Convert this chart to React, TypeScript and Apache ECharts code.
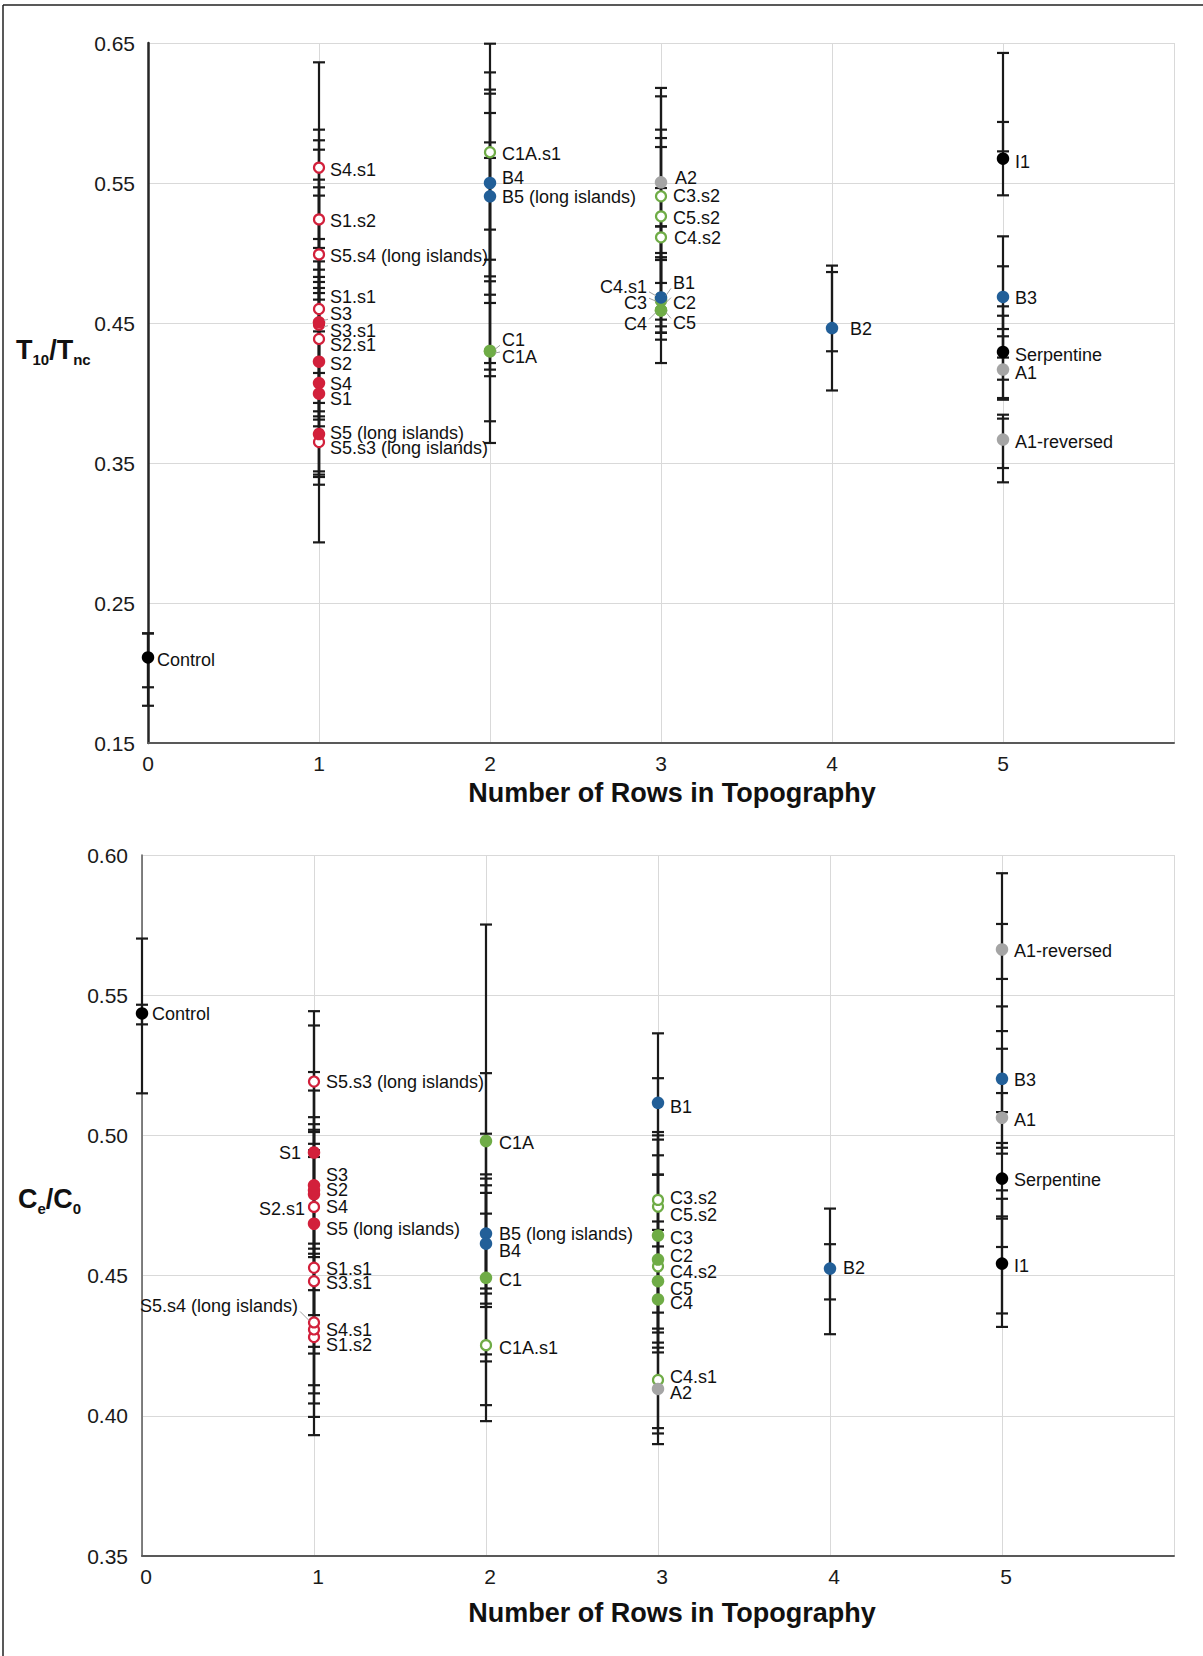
import React, { useEffect, useRef } from 'react';
import * as echarts from 'echarts';

const FONT = '"Liberation Sans", Arial, Helvetica, sans-serif';

// ---------- Data: top panel (T10/Tnc) ----------
const TOP_NAMES = ['Control', 'S4.s1', 'S1.s2', 'S5.s4 (long islands)', 'S1.s1', 'S3.s1', 'S3', 'S2.s1', 'S2', 'S4', 'S1', 'S5.s3 (long islands)', 'S5 (long islands)', 'C1A.s1', 'B4', 'B5 (long islands)', 'C1A', 'C1', 'A2', 'C3.s2', 'C5.s2', 'C4.s2', 'C4.s1', 'C3', 'C2', 'C4', 'C5', 'B1', 'B2', 'I1', 'B3', 'Serpentine', 'A1', 'A1-reversed'];
const TOP_ROWS = [0, 1, 1, 1, 1, 1, 1, 1, 1, 1, 1, 1, 1, 2, 2, 2, 2, 2, 3, 3, 3, 3, 3, 3, 3, 3, 3, 3, 4, 5, 5, 5, 5, 5];
const TOP_VALUES = [0.2111, 0.561, 0.524, 0.499, 0.46, 0.4488, 0.4505, 0.4386, 0.4224, 0.4071, 0.3995, 0.365, 0.3707, 0.572, 0.55, 0.5405, 0.43, 0.4298, 0.5505, 0.5405, 0.5262, 0.5112, 0.468, 0.467, 0.466, 0.459, 0.459, 0.4683, 0.4464, 0.5674, 0.4686, 0.4293, 0.4167, 0.3667];
const TOP_KIND = ['black', 'redOpen', 'redOpen', 'redOpen', 'redOpen', 'redOpen', 'red', 'redOpen', 'red', 'red', 'red', 'redOpen', 'red', 'greenOpen', 'blue', 'blue', 'green', 'green', 'grey', 'greenOpen', 'greenOpen', 'greenOpen', 'greenOpen', 'green', 'green', 'green', 'green', 'blue', 'blue', 'black', 'blue', 'black', 'grey', 'grey'];
const TOP_ERR_LOW = [0.1898, 0.4881, 0.4667, 0.444, 0.381, 0.3833, 0.3869, 0.3762, 0.344, 0.3417, 0.3345, 0.34, 0.2933, 0.4952, 0.4833, 0.4643, 0.3798, 0.3643, 0.4786, 0.4952, 0.497, 0.4524, 0.443, 0.4381, 0.443, 0.4476, 0.443, 0.4214, 0.4018, 0.5412, 0.4253, 0.3964, 0.3952, 0.3362];
const TOP_ERR_HIGH = [0.2283, 0.6362, 0.5881, 0.5738, 0.5524, 0.51, 0.5469, 0.5036, 0.494, 0.4829, 0.4793, 0.4143, 0.475, 0.6495, 0.6167, 0.6138, 0.5167, 0.4798, 0.6179, 0.6119, 0.5881, 0.5821, 0.5, 0.519, 0.495, 0.5757, 0.5464, 0.519, 0.491, 0.5936, 0.5119, 0.4619, 0.4405, 0.3817];
const TOP_EXTRA_ERR = [[0, 0.1766, 0.2283], [1, 0.4714, 0.5805], [1, 0.3929, 0.541], [2, 0.4214, 0.629], [2, 0.4167, 0.6], [2, 0.412, 0.579], [2, 0.4702, 0.5679], [4, 0.4298, 0.4864], [5, 0.5726, 0.6429], [5, 0.4457, 0.4905], [5, 0.4095, 0.4552], [5, 0.3464, 0.3845]];

// ---------- Data: bottom panel (Ce/C0) ----------
const BOT_NAMES = ['Control', 'S5.s3 (long islands)', 'S1', 'S4', 'S2', 'S3', 'S2.s1', 'S5 (long islands)', 'S1.s1', 'S3.s1', 'S1.s2', 'S4.s1', 'S5.s4 (long islands)', 'C1A', 'B5 (long islands)', 'B4', 'C1', 'C1A.s1', 'B1', 'C5.s2', 'C3.s2', 'C3', 'C4.s2', 'C2', 'C5', 'C4', 'C4.s1', 'A2', 'B2', 'A1-reversed', 'B3', 'A1', 'Serpentine', 'I1'];
const BOT_ROWS = [0, 1, 1, 1, 1, 1, 1, 1, 1, 1, 1, 1, 1, 2, 2, 2, 2, 2, 3, 3, 3, 3, 3, 3, 3, 3, 3, 3, 4, 5, 5, 5, 5, 5];
const BOT_VALUES = [0.5435, 0.5192, 0.4939, 0.479, 0.4804, 0.4822, 0.4745, 0.4685, 0.4528, 0.448, 0.4281, 0.4308, 0.4333, 0.498, 0.465, 0.4614, 0.4492, 0.4252, 0.5116, 0.4746, 0.477, 0.4643, 0.4533, 0.4557, 0.448, 0.4415, 0.4128, 0.4096, 0.4525, 0.5663, 0.5202, 0.5063, 0.4846, 0.4543];
const BOT_KIND = ['black', 'redOpen', 'red', 'red', 'red', 'red', 'redOpen', 'red', 'redOpen', 'redOpen', 'redOpen', 'redOpen', 'redOpen', 'green', 'blue', 'blue', 'green', 'greenOpen', 'blue', 'greenOpen', 'greenOpen', 'green', 'greenOpen', 'green', 'green', 'green', 'greenOpen', 'grey', 'blue', 'grey', 'blue', 'grey', 'black', 'black'];
const BOT_ERR_LOW = [0.515, 0.4947, 0.4596, 0.4566, 0.4448, 0.4246, 0.4359, 0.4222, 0.4109, 0.4044, 0.3931, 0.408, 0.3996, 0.4219, 0.4436, 0.44, 0.4194, 0.3981, 0.486, 0.4311, 0.4297, 0.4261, 0.4226, 0.4243, 0.4368, 0.3956, 0.3899, 0.3937, 0.4291, 0.5372, 0.4956, 0.4935, 0.4703, 0.4317];
const BOT_ERR_HIGH = [0.5702, 0.5443, 0.5392, 0.5065, 0.516, 0.5226, 0.504, 0.502, 0.5012, 0.497, 0.4923, 0.4578, 0.4614, 0.5752, 0.4861, 0.4846, 0.4795, 0.4721, 0.5364, 0.5012, 0.5204, 0.5, 0.486, 0.4929, 0.4693, 0.4985, 0.4663, 0.4604, 0.4739, 0.5935, 0.546, 0.5151, 0.4973, 0.4804];
const BOT_EXTRA_ERR = [[0, 0.5396, 0.5466], [2, 0.4454, 0.5222], [2, 0.4388, 0.5006], [2, 0.4038, 0.4822], [4, 0.4415, 0.4612], [5, 0.5558, 0.5754], [5, 0.5083, 0.5309], [5, 0.4365, 0.4774], [5, 0.4602, 0.4711]];

const X_TICK_LABELS = ['0', '1', '2', '3', '4', '5'];

// ---------- Layout (label offsets in px: dx, dy, leader) ----------
const TOP_LABEL_POS = [[9, 3], [11, 2], [11, 2], [11, 2], [11, -12], [11, 6, 1], [11, -8, 1], [11, 6], [11, 2], [11, 1], [11, 5], [11, 6], [11, -1], [12, 2], [12, -5], [12, 1], [12, 6, 1], [12, -11, 1], [14, -4], [12, 0], [12, 2], [13, 1], [-14, -11, 1], [-14, 4, 1], [12, 2, 1], [-14, 14, 1], [12, 13, 1], [12, -14, 1], [18, 1], [12, 3], [12, 1], [12, 3], [12, 3], [12, 2]];
const BOT_LABEL_POS = [[10, 1], [12, 0], [-13, 0], [12, 13], [12, 0], [12, -10], [-9, 2], [12, 5], [12, 1], [12, 2], [12, 8], [12, 1], [-16, -16, 1], [13, 2], [13, 0], [13, 7], [13, 2], [13, 3], [12, 4], [12, 8], [12, -2], [12, 2], [12, 6], [12, -4], [12, 8], [12, 4], [12, -3], [12, 4], [13, -1], [12, 2], [12, 1], [12, 2], [12, 1], [12, 2]];

const COLORS: Record<string, string> = {
  red: '#d2203b',
  blue: '#225f98',
  green: '#6fac46',
  grey: '#a5a5a5',
  black: '#000000',
};

function errorSeries(idx: number, rows: number[], lo: number[], hi: number[], extra: number[][]) {
  const data = rows.map((r, i) => [r, lo[i], hi[i]]).concat(extra.map((e) => [e[0], e[1], e[2]]));
  return {
    type: 'custom',
    xAxisIndex: idx,
    yAxisIndex: idx,
    z: 2,
    silent: true,
    encode: { x: 0, y: [1, 2] },
    data,
    renderItem: (_p: any, api: any) => {
      const x = api.value(0);
      const a = api.coord([x, api.value(1)]);
      const b = api.coord([x, api.value(2)]);
      const cw = 6;
      const st = { stroke: '#1a1a1a', lineWidth: 2.2 };
      return {
        type: 'group',
        children: [
          { type: 'line', shape: { x1: a[0], y1: a[1], x2: b[0], y2: b[1] }, style: st },
          { type: 'line', shape: { x1: a[0] - cw, y1: a[1], x2: a[0] + cw, y2: a[1] }, style: st },
          { type: 'line', shape: { x1: b[0] - cw, y1: b[1], x2: b[0] + cw, y2: b[1] }, style: st },
        ],
      };
    },
  };
}

function pointSeries(idx: number, names: string[], rows: number[], values: number[], kinds: string[]) {
  return {
    type: 'scatter',
    xAxisIndex: idx,
    yAxisIndex: idx,
    z: 3,
    silent: true,
    data: names.map((n, i) => {
      const k = kinds[i];
      const open = k.endsWith('Open');
      const col = COLORS[open ? k.replace('Open', '') : k];
      return {
        name: n,
        value: [rows[i], values[i]],
        symbol: 'circle',
        symbolSize: open ? 10 : 12.5,
        itemStyle: open
          ? { color: '#ffffff', borderColor: col, borderWidth: 2.2, opacity: 1 }
          : { color: col, borderWidth: 0, opacity: 1 },
      };
    }),
  };
}

function labelSeries(idx: number, names: string[], rows: number[], values: number[], pos: number[][]) {
  return {
    type: 'custom',
    xAxisIndex: idx,
    yAxisIndex: idx,
    z: 4,
    silent: true,
    encode: { x: 0, y: 1 },
    data: names.map((_n, i) => [rows[i], values[i], i]),
    renderItem: (_p: any, api: any) => {
      const i = api.value(2);
      const lp = pos[i];
      const dx = lp[0];
      const dy = lp[1];
      const lead = lp[2];
      const pt = api.coord([api.value(0), api.value(1)]);
      const left = dx < 0;
      const s = left ? -1 : 1;
      const tx = pt[0] + dx;
      const ty = pt[1] + dy;
      const children: any[] = [];
      if (lead) {
        const sy = dy === 0 ? 0 : dy > 0 ? 1 : -1;
        children.push({
          type: 'line',
          shape: { x1: pt[0] + s * 5, y1: pt[1] + sy * 2, x2: tx - s * 2, y2: ty - sy * 5 },
          style: { stroke: '#a0a0a0', lineWidth: 1 },
        });
      }
      children.push({
        type: 'text',
        x: tx,
        y: ty,
        style: {
          text: names[i],
          fill: '#111111',
          fontSize: 18,
          fontFamily: FONT,
          align: left ? 'right' : 'left',
          verticalAlign: 'middle',
        },
      });
      return { type: 'group', children };
    },
  };
}

function xAxisOpt(idx: number, lineColor: string, pad: number) {
  return {
    type: 'value',
    gridIndex: idx,
    min: 0,
    max: 6,
    interval: 1,
    axisLine: { show: true, onZero: false, lineStyle: { color: lineColor, width: 2 } },
    axisTick: { show: false },
    splitLine: { show: true, lineStyle: { color: '#d9d9d9', width: 1 } },
    axisLabel: {
      margin: 10,
      fontSize: 21,
      fontFamily: FONT,
      color: '#1a1a1a',
      padding: [0, 0, 0, pad],
      formatter: (v: number) => (X_TICK_LABELS[v] !== undefined ? X_TICK_LABELS[v] : ''),
    },
  };
}

function yAxisOpt(idx: number, min: number, max: number, interval: number, lineColor: string, lw: number, margin: number) {
  return {
    type: 'value',
    gridIndex: idx,
    min,
    max,
    interval,
    axisLine: { show: true, lineStyle: { color: lineColor, width: lw } },
    axisTick: { show: false },
    splitLine: { show: true, lineStyle: { color: '#d9d9d9', width: 1 } },
    axisLabel: {
      margin,
      fontSize: 21,
      fontFamily: FONT,
      color: '#1a1a1a',
      formatter: (v: number) => v.toFixed(2),
    },
  };
}

function yTitle(x: number, yCenter: number, main1: string, sub1: string, main2: string, sub2: string) {
  return {
    type: 'text',
    x,
    y: yCenter - 13.5,
    style: {
      text: `{b|${main1}}{s|${sub1}}{b|${main2}}{s|${sub2}}`,
      verticalAlign: 'top',
      align: 'left',
      rich: {
        b: { fontSize: 27, fontWeight: 'bold', fontFamily: FONT, fill: '#111', lineHeight: 27, verticalAlign: 'top' },
        s: { fontSize: 15, fontWeight: 'bold', fontFamily: FONT, fill: '#111', lineHeight: 45 },
      },
    },
  };
}

function buildOption() {
  return {
    animation: false,
    backgroundColor: '#ffffff',
    grid: [
      { left: 148, top: 43, width: 1026, height: 700, containLabel: false },
      { left: 142, top: 855, width: 1032, height: 701, containLabel: false },
    ],
    xAxis: [xAxisOpt(0, '#595959', 0), xAxisOpt(1, '#595959', 8)],
    yAxis: [
      yAxisOpt(0, 0.15, 0.65, 0.1, '#262626', 2.5, 13),
      yAxisOpt(1, 0.35, 0.6, 0.05, '#595959', 1.5, 14),
    ],
    graphic: [
      { type: 'line', shape: { x1: 3, y1: 5, x2: 3, y2: 1656 }, style: { stroke: '#222', lineWidth: 1.5 } },
      { type: 'line', shape: { x1: 3, y1: 5, x2: 1203, y2: 5 }, style: { stroke: '#222', lineWidth: 1.5 } },
      {
        type: 'text', x: 672, y: 793,
        style: { text: 'Number of Rows in Topography', fontSize: 27, fontWeight: 'bold', fontFamily: FONT, fill: '#111', align: 'center', verticalAlign: 'middle' },
      },
      {
        type: 'text', x: 672, y: 1613,
        style: { text: 'Number of Rows in Topography', fontSize: 27, fontWeight: 'bold', fontFamily: FONT, fill: '#111', align: 'center', verticalAlign: 'middle' },
      },
      yTitle(16, 350, 'T', '10', '/T', 'nc'),
      yTitle(18, 1199, 'C', 'e', '/C', '0'),
    ],
    series: [
      errorSeries(0, TOP_ROWS, TOP_ERR_LOW, TOP_ERR_HIGH, TOP_EXTRA_ERR),
      pointSeries(0, TOP_NAMES, TOP_ROWS, TOP_VALUES, TOP_KIND),
      labelSeries(0, TOP_NAMES, TOP_ROWS, TOP_VALUES, TOP_LABEL_POS),
      errorSeries(1, BOT_ROWS, BOT_ERR_LOW, BOT_ERR_HIGH, BOT_EXTRA_ERR),
      pointSeries(1, BOT_NAMES, BOT_ROWS, BOT_VALUES, BOT_KIND),
      labelSeries(1, BOT_NAMES, BOT_ROWS, BOT_VALUES, BOT_LABEL_POS),
    ],
  };
}

export default function App() {
  const ref = useRef<HTMLDivElement>(null);
  useEffect(() => {
    if (!ref.current) return;
    const chart = echarts.init(ref.current, null, { renderer: 'svg', width: 1203, height: 1656 });
    chart.setOption(buildOption() as any);
    return () => {
      chart.dispose();
    };
  }, []);
  return (
    <div
      ref={ref}
      style={{ position: 'absolute', left: 0, top: 0, width: 1203, height: 1656, background: '#ffffff' }}
    />
  );
}
